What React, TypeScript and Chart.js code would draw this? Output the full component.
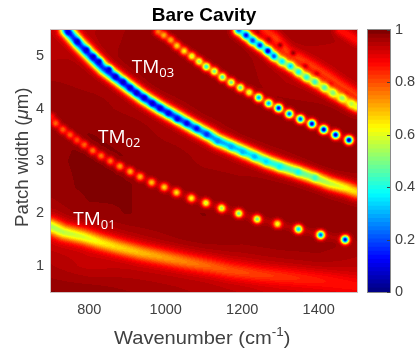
import React, { useEffect, useRef } from "react";
import { Chart, registerables } from "chart.js";

Chart.register(...registerables);

const xTickValues = [800, 1000, 1200, 1400];
const yTickValues = [1, 2, 3, 4, 5];
const barTickValues = [0, 0.2, 0.4, 0.6, 0.8, 1];

// Background level, rows from width 5.5 down to 0.5, columns 700..1500 by 100
const bgColumns = [700, 800, 900, 1000, 1100, 1200, 1300, 1400, 1500];
const bgRowWidths = [5.5, 5, 4.5, 4, 3.5, 3, 2.5, 2, 1.5, 1, 0.5];
const bg55 = [0.94, 0.95, 0.97, 0.98, 0.98, 0.975, 0.965, 0.965, 0.955];
const bg50 = [0.95, 0.955, 0.975, 0.98, 0.975, 0.975, 0.95, 0.945, 0.945];
const bg45 = [0.97, 0.965, 0.965, 0.98, 0.98, 0.98, 0.955, 0.945, 0.945];
const bg40 = [0.98, 0.975, 0.965, 0.96, 0.975, 0.98, 0.98, 0.975, 0.965];
const bg35 = [0.98, 0.985, 0.98, 0.965, 0.96, 0.975, 0.98, 0.985, 0.985];
const bg30 = [0.98, 0.99, 0.985, 0.98, 0.965, 0.96, 0.965, 0.98, 0.98];
const bg25 = [0.975, 0.99, 0.985, 0.98, 0.98, 0.975, 0.975, 0.975, 0.96];
const bg20 = [0.96, 0.98, 0.985, 0.98, 0.985, 0.98, 0.98, 0.98, 0.98];
const bg15 = [0.93, 0.93, 0.955, 0.97, 0.98, 0.975, 0.98, 0.98, 0.97];
const bg10 = [0.955, 0.93, 0.94, 0.94, 0.945, 0.945, 0.955, 0.96, 0.945];
const bg05 = [0.985, 0.985, 0.97, 0.96, 0.95, 0.94, 0.92, 0.92, 0.91];
const bgRows = [bg55, bg50, bg45, bg40, bg35, bg30, bg25, bg20, bg15, bg10, bg05];

// TM01 ridge
const tm01X = [700, 733, 785, 829, 873, 934, 995, 1056, 1116, 1169, 1248, 1334, 1422, 1500];
const tm01Y = [1.75, 1.64, 1.55, 1.45, 1.36, 1.25, 1.16, 1.07, 0.99, 0.91, 0.83, 0.77, 0.7, 0.61];
const tm01V = [0.54, 0.56, 0.59, 0.63, 0.66, 0.69, 0.72, 0.75, 0.78, 0.8, 0.82, 0.84, 0.86, 0.87];

// Dotted chain below the strong ridge
const chainAX = [700, 712, 731, 750, 768, 787, 809, 831, 855, 880, 907, 933, 963, 996, 1028, 1067, 1105, 1146, 1191, 1239, 1292, 1347, 1405, 1469];
const chainAY = [3.84, 3.72, 3.6, 3.5, 3.4, 3.31, 3.2, 3.1, 3.0, 2.9, 2.8, 2.7, 2.59, 2.5, 2.4, 2.29, 2.2, 2.1, 2.0, 1.89, 1.8, 1.7, 1.59, 1.5];
const chainAV = [0.86, 0.78, 0.78, 0.78, 0.8, 0.78, 0.76, 0.76, 0.76, 0.72, 0.7, 0.7, 0.68, 0.66, 0.64, 0.62, 0.58, 0.53, 0.48, 0.48, 0.6, 0.33, 0.2, 0.1];

// Strong ridge (TM02 label side)
const ridgeBX = [741, 771, 802, 837, 872, 907, 941, 985, 1029, 1072, 1116, 1133, 1194, 1229, 1264, 1299, 1342, 1386, 1429, 1473, 1499];
const ridgeBY = [5.5, 5.25, 5.02, 4.77, 4.58, 4.39, 4.21, 4.01, 3.83, 3.65, 3.48, 3.4, 3.21, 3.1, 2.99, 2.9, 2.8, 2.69, 2.57, 2.48, 2.41];
const ridgeBV = [0.16, 0.16, 0.16, 0.16, 0.16, 0.16, 0.16, 0.16, 0.18, 0.22, 0.26, 0.28, 0.33, 0.36, 0.39, 0.41, 0.45, 0.5, 0.56, 0.62, 0.66];
const ridgeBDotX = [745, 769, 793, 811, 826, 852, 869, 889, 907, 924, 944, 965, 985, 1007, 1030, 1055, 1081, 1107, 1136, 1171, 1201, 1232, 1263, 1298, 1346, 1390];
const ridgeBDotY = [5.46, 5.28, 5.12, 4.99, 4.9, 4.75, 4.61, 4.51, 4.4, 4.3, 4.21, 4.1, 4.01, 3.91, 3.8, 3.72, 3.62, 3.51, 3.38, 3.27, 3.17, 3.08, 2.99, 2.89, 2.79, 2.68];
const ridgeBDotV = [0.08, 0.06, 0.07, 0.06, 0.06, 0.06, 0.06, 0.06, 0.07, 0.07, 0.07, 0.07, 0.08, 0.09, 0.09, 0.1, 0.12, 0.16, 0.26, 0.28, 0.3, 0.3, 0.34, 0.36, 0.38, 0.42];

// Second dotted chain (TM03 label side)
const chainCX = [980, 995, 1013, 1029, 1048, 1068, 1087, 1106, 1127, 1148, 1171, 1195, 1218, 1243, 1269, 1295, 1323, 1352, 1382, 1413, 1444, 1479];
const chainCY = [5.47, 5.4, 5.31, 5.2, 5.1, 5.0, 4.9, 4.8, 4.71, 4.6, 4.5, 4.4, 4.31, 4.21, 4.1, 4.01, 3.9, 3.8, 3.71, 3.6, 3.5, 3.4];
const chainCV = [0.76, 0.7, 0.7, 0.66, 0.63, 0.58, 0.53, 0.4, 0.48, 0.43, 0.48, 0.46, 0.58, 0.28, 0.28, 0.1, 0.2, 0.18, 0.06, 0.04, 0.05, 0.02];

// Upper right ridge with beads
const ridgeDX = [1191, 1210, 1227, 1246, 1267, 1283, 1304, 1326, 1347, 1368, 1390, 1415, 1437, 1461, 1486, 1499];
const ridgeDY = [5.5, 5.4, 5.3, 5.21, 5.1, 5.0, 4.9, 4.81, 4.7, 4.6, 4.51, 4.4, 4.3, 4.2, 4.09, 4.04];
const ridgeDV = [0.5, 0.5, 0.5, 0.5, 0.52, 0.55, 0.6, 0.6, 0.62, 0.62, 0.63, 0.64, 0.65, 0.66, 0.67, 0.68];
const ridgeDBeadV = [0.2, 0.12, 0.18, 0.15, 0.06, 0.2, 0.35, 0.32, 0.38, 0.4, 0.42, 0.45, 0.5, 0.52, 0.55, 0.6];

// Faint ridges in the top right corner
const faintEX = [1259, 1286, 1316, 1355, 1388, 1421, 1458, 1499];
const faintEY = [5.5, 5.35, 5.09, 4.93, 4.79, 4.64, 4.45, 4.26];
const faintEV = [0.84, 0.82, 0.82, 0.82, 0.82, 0.82, 0.82, 0.82];
const darkFX = [1238, 1268, 1299, 1333, 1364, 1394, 1429, 1469];
const darkFY = [5.44, 5.31, 5.21, 5.06, 4.8, 4.65, 4.45, 4.26];
const darkFV = [0.98, 0.98, 0.98, 0.98, 0.98, 0.98, 0.98, 0.98];
const faintGX = [1456, 1499];
const faintGY = [5.5, 5.31];
const faintGV = [0.86, 0.86];

const barLevels = Array.from({ length: 64 }, (_, i) => i);

const jetChannel = (t: number, c: number) => Math.max(0, Math.min(1, 1.5 - Math.abs(4 * t - c)));
const jetRGB = (v: number): [number, number, number] => {
  const level = Math.max(0, Math.min(63, Math.floor(v * 64)));
  const tt = level === 63 ? 1 : (level + 0.5) / 64;
  return [jetChannel(tt, 3) * 255, jetChannel(tt, 2) * 255, jetChannel(tt, 1) * 255];
};

const zip = (xs: number[], ys: number[], vs: number[]) => xs.map((x, i) => ({ x, y: ys[i], v: vs[i] }));
const layer = (label: string, data: any[], kind: string, sigma: number, target?: number) => ({
  label,
  data,
  kind,
  sigma,
  target,
  showLine: false,
  pointRadius: 0,
  pointHoverRadius: 0,
});

const heatPlugin = {
  id: "heat",
  beforeDatasetsDraw(chart: any) {
    const { ctx, chartArea: a, scales } = chart;
    const w = Math.round(a.right - a.left);
    const h = Math.round(a.bottom - a.top);
    const field = new Float32Array(w * h);
    const nc = bgColumns.length;
    const nr = bgRowWidths.length;
    for (let j = 0; j < h; j++) {
      const yv = scales.y.getValueForPixel(a.top + j + 0.5);
      const rf = Math.max(0, Math.min(nr - 1.001, (bgRowWidths[0] - yv) / (bgRowWidths[0] - bgRowWidths[1])));
      const r0 = Math.floor(rf);
      const fr = rf - r0;
      for (let i = 0; i < w; i++) {
        const xv = scales.x.getValueForPixel(a.left + i + 0.5);
        const cf = Math.max(0, Math.min(nc - 1.001, (xv - bgColumns[0]) / (bgColumns[1] - bgColumns[0])));
        const c0 = Math.floor(cf);
        const fc = cf - c0;
        const top = bgRows[r0][c0] * (1 - fc) + bgRows[r0][c0 + 1] * fc;
        const bot = bgRows[r0 + 1][c0] * (1 - fc) + bgRows[r0 + 1][c0 + 1] * fc;
        field[j * w + i] = top * (1 - fr) + bot * fr;
      }
    }
    for (const ds of chart.data.datasets) {
      const pts = ds.data.map((p: any) => ({
        px: scales.x.getPixelForValue(p.x) - a.left - 0.5,
        py: scales.y.getPixelForValue(p.y) - a.top - 0.5,
        v: ds.target ?? p.v,
      }));
      const s2 = 2 * ds.sigma * ds.sigma;
      const reach = ds.sigma * 4;
      if (ds.kind === "dots") {
        for (const p of pts) {
          const x0 = Math.max(0, Math.floor(p.px - reach));
          const x1 = Math.min(w - 1, Math.ceil(p.px + reach));
          const y0 = Math.max(0, Math.floor(p.py - reach));
          const y1 = Math.min(h - 1, Math.ceil(p.py + reach));
          for (let j = y0; j <= y1; j++) {
            for (let i = x0; i <= x1; i++) {
              const d = (i - p.px) ** 2 + (j - p.py) ** 2;
              const g = Math.exp(-d / s2);
              const k = j * w + i;
              field[k] += (p.v - field[k]) * g;
            }
          }
        }
      } else {
        for (let j = 0; j < h; j++) {
          for (let i = 0; i < w; i++) {
            let best = Infinity;
            let val = 1;
            for (let n = 0; n + 1 < pts.length; n++) {
              const A = pts[n];
              const B = pts[n + 1];
              const dx = B.px - A.px;
              const dy = B.py - A.py;
              let t = ((i - A.px) * dx + (j - A.py) * dy) / (dx * dx + dy * dy);
              t = Math.max(0, Math.min(1, t));
              const ex = A.px + t * dx - i;
              const ey = A.py + t * dy - j;
              const d = ex * ex + ey * ey;
              if (d < best) {
                best = d;
                val = A.v + (B.v - A.v) * t;
              }
            }
            if (best < reach * reach) {
              const g = Math.exp(-best / s2);
              const k = j * w + i;
              field[k] += (val - field[k]) * g;
            }
          }
        }
      }
    }
    const off = document.createElement("canvas");
    off.width = w;
    off.height = h;
    const octx = off.getContext("2d")!;
    const img = octx.createImageData(w, h);
    for (let k = 0; k < w * h; k++) {
      const [r, g, b] = jetRGB(field[k]);
      img.data[k * 4] = r;
      img.data[k * 4 + 1] = g;
      img.data[k * 4 + 2] = b;
      img.data[k * 4 + 3] = 255;
    }
    octx.putImageData(img, 0, 0);
    ctx.save();
    ctx.drawImage(off, a.left, a.top, a.right - a.left, a.bottom - a.top);
    ctx.strokeStyle = "rgba(170,150,150,0.6)";
    ctx.lineWidth = 1;
    ctx.strokeRect(a.left - 0.5, a.top - 0.5, a.right - a.left + 1, a.bottom - a.top + 1);
    ctx.restore();
  },
};

const FONT = '"Liberation Sans", Arial, sans-serif';
const TEXT = "#404040";

type Run = { t: string; f: string; dy?: number };
const drawRuns = (ctx: CanvasRenderingContext2D, runs: Run[], x: number, y: number, color: string) => {
  ctx.fillStyle = color;
  ctx.textBaseline = "alphabetic";
  ctx.textAlign = "left";
  let cx = x;
  for (const r of runs) {
    ctx.font = r.f;
    ctx.fillText(r.t, cx, y + (r.dy ?? 0));
    cx += ctx.measureText(r.t).width;
  }
  return cx - x;
};

const labelPlugin = {
  id: "labels",
  afterDraw(chart: any) {
    const { ctx } = chart;
    const big = `18.6px ${FONT}`;
    const sup = `12.5px ${FONT}`;
    ctx.save();
    ctx.translate(114, 344);
    ctx.scale(1.08, 1);
    drawRuns(ctx, [{ t: "Wavenumber (cm", f: big }, { t: "-1", f: sup, dy: -8 }, { t: ")", f: big }], 0, 0, TEXT);
    ctx.restore();
    ctx.save();
    ctx.translate(28, 227);
    ctx.rotate(-Math.PI / 2);
    drawRuns(ctx, [{ t: "Patch width (", f: big }, { t: "\u03bc", f: `italic ${big}` }, { t: "m)", f: big }], 0, 0, TEXT);
    ctx.restore();

    ctx.save();
    const tm = `19px "Open Sans", sans-serif`;
    const sub = `13px "Open Sans", sans-serif`;
    const place = (n: string, xv: number, yv: number) => {
      const px = chart.scales.x.getPixelForValue(xv);
      const py = chart.scales.y.getPixelForValue(yv);
      drawRuns(ctx, [{ t: "TM", f: tm }, { t: n, f: sub, dy: 4 }], px, py, "#ffffff");
    };
    place("01", 758, 1.78);
    place("02", 823, 3.34);
    place("03", 911, 4.68);
    ctx.restore();
  },
};

const barFramePlugin = {
  id: "barFrame",
  afterDraw(chart: any) {
    const { ctx, chartArea: a, scales } = chart;
    ctx.save();
    ctx.strokeStyle = "#8a8a8a";
    ctx.lineWidth = 1;
    ctx.strokeRect(a.left - 0.5, a.top - 0.5, a.right - a.left + 1, a.bottom - a.top + 1);
    ctx.strokeStyle = "#404040";
    for (const t of scales.y.ticks) {
      const y = Math.round(scales.y.getPixelForValue(t.value)) + 0.5;
      ctx.beginPath();
      ctx.moveTo(a.right - 3, y);
      ctx.lineTo(a.right, y);
      ctx.stroke();
    }
    ctx.restore();
  },
};

export default function App() {
  const mainRef = useRef<HTMLCanvasElement>(null);
  const barRef = useRef<HTMLCanvasElement>(null);

  useEffect(() => {
    const main = new Chart(mainRef.current!, {
      type: "scatter",
      data: {
        datasets: [
          layer("TM01 glow", zip(tm01X, tm01Y, tm01V), "line", 9, 0.89),
          layer("TM01", zip(tm01X, tm01Y, tm01V), "line", 5),
          layer("Chain A glow", zip(chainAX, chainAY, chainAV), "line", 3, 0.95),
          layer("Chain A", zip(chainAX, chainAY, chainAV), "dots", 2.8),
          layer("Ridge B glow", zip(ridgeBX, ridgeBY, ridgeBV), "line", 6.5, 0.9),
          layer("Ridge B", zip(ridgeBX, ridgeBY, ridgeBV), "line", 4.3),
          layer("Ridge B beads", zip(ridgeBDotX, ridgeBDotY, ridgeBDotV), "dots", 2.2),
          layer("Chain C glow", zip(chainCX, chainCY, chainCV), "line", 3, 0.95),
          layer("Chain C", zip(chainCX, chainCY, chainCV), "dots", 2.8),
          layer("Faint E", zip(faintEX, faintEY, faintEV), "line", 4.5),
          layer("Faint G", zip(faintGX, faintGY, faintGV), "line", 4),
          layer("Dark F", zip(darkFX, darkFY, darkFV), "dots", 2),
          layer("Ridge D glow", zip(ridgeDX, ridgeDY, ridgeDV), "line", 5, 0.9),
          layer("Ridge D", zip(ridgeDX, ridgeDY, ridgeDV), "line", 3.8),
          layer("Ridge D beads", zip(ridgeDX, ridgeDY, ridgeDBeadV), "dots", 2.6),
        ] as any,
      },
      options: {
        responsive: false,
        animation: false,
        events: [],
        layout: { padding: { left: 0, right: 60, top: 0, bottom: 0 } },
        plugins: {
          legend: { display: false },
          tooltip: { enabled: false },
          title: {
            display: true,
            text: "Bare Cavity",
            color: "#000000",
            fullSize: false,
            font: { family: FONT, size: 19, weight: "bold" },
            padding: { top: 4, bottom: 3.2 },
          } as any,
        },
        scales: {
          x: {
            type: "linear",
            min: 700,
            max: 1500,
            afterBuildTicks: (s: any) => {
              s.ticks = xTickValues.map((value) => ({ value }));
            },
            afterFit: (s: any) => {
              s.height = 58;
            },
            grid: { display: false, drawTicks: false },
            border: { display: false },
            ticks: {
              color: TEXT,
              font: { family: FONT, size: 14.5 },
              padding: 9,
              maxRotation: 0,
              callback: (v: any) => String(v),
            },
          },
          y: {
            type: "linear",
            min: 0.5,
            max: 5.5,
            afterBuildTicks: (s: any) => {
              s.ticks = yTickValues.map((value) => ({ value }));
            },
            afterFit: (s: any) => {
              s.width = 51;
            },
            grid: { display: false, drawTicks: false },
            border: { display: false },
            ticks: { color: TEXT, font: { family: FONT, size: 14.5 }, padding: 7, callback: (v: any) => String(v) },
          },
        },
      },
      plugins: [heatPlugin, labelPlugin],
    } as any);

    const bar = new Chart(barRef.current!, {
      type: "bar",
      data: {
        labels: ["level"],
        datasets: barLevels.map((i) => {
          const [r, g, b] = jetRGB((i + 0.5) / 64);
          return {
            label: String(i),
            data: [(i + 1) / 64],
            backgroundColor: `rgb(${r},${g},${b})`,
            borderWidth: 0,
            barPercentage: 1,
            categoryPercentage: 1,
            grouped: false,
          };
        }),
      },
      options: {
        responsive: false,
        animation: false,
        events: [],
        layout: { padding: { left: 368, right: 0, top: 30, bottom: 58 } },
        plugins: { legend: { display: false }, tooltip: { enabled: false } },
        scales: {
          x: { display: false },
          y: {
            position: "right",
            min: 0,
            max: 1,
            afterBuildTicks: (s: any) => {
              s.ticks = barTickValues.map((value) => ({ value }));
            },
            afterFit: (s: any) => {
              s.width = 27;
            },
            grid: { display: false, drawTicks: false },
            border: { display: false },
            ticks: { color: TEXT, font: { family: FONT, size: 14.5 }, padding: 5, callback: (v: any) => String(v) },
          },
        },
      },
      plugins: [barFramePlugin],
    } as any);

    return () => {
      main.destroy();
      bar.destroy();
    };
  }, []);

  return (
    <div style={{ position: "absolute", left: 0, top: 0, width: 417, height: 350, background: "#fff" }}>
      <canvas ref={mainRef} width={417} height={350} style={{ position: "absolute", left: 0, top: 0 }} />
      <canvas ref={barRef} width={417} height={350} style={{ position: "absolute", left: 0, top: 0 }} />
    </div>
  );
}
